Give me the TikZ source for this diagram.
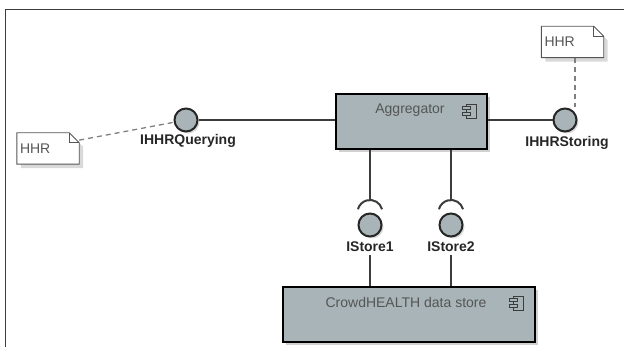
\documentclass[tikz,border=0pt]{standalone}
\usepackage{fontspec}
\setmainfont{Liberation Sans}
\usetikzlibrary{positioning,shadows,backgrounds}

\definecolor{compgray}{RGB}{168,180,183}
\definecolor{txtgray}{RGB}{85,85,85}
\definecolor{linegray}{RGB}{60,60,60}

\tikzset{
    compicon/.pic = {
        \draw[linegray, fill=compgray, line width=0.9pt] (-5,-7) rectangle (5,7);
        \draw[linegray, fill=compgray, line width=0.9pt] (-9,1.2) rectangle (-1,4.6);
        \draw[linegray, fill=compgray, line width=0.9pt] (-9,-4.6) rectangle (-1,-1.2);
    }
}

\begin{document}
\begin{tikzpicture}[
        x=1pt, y=1pt,
        font=\fontsize{14}{16}\selectfont,
        comp/.style = {draw=black, line width=2pt, fill=compgray, rectangle, inner sep=0pt,
                       drop shadow={shadow xshift=3pt, shadow yshift=-3pt, fill=black!18, opacity=1}},
        iface/.style = {draw=black!85, line width=2pt, circle, fill=compgray, minimum size=23pt, inner sep=0pt,
                       drop shadow={shadow xshift=2pt, shadow yshift=-2pt, fill=black!15, opacity=1}},
        ilabel/.style = {font=\fontsize{14}{16}\selectfont\bfseries, text=black!85},
        ctitle/.style = {text=txtgray},
        notebox/.style = {text width=56pt, align=left, inner xsep=3pt, inner ysep=0pt, minimum height=31pt, text=txtgray},
        wire/.style = {draw=linegray, line width=1.1pt},
        dep/.style = {draw=gray, line width=1.3pt, dash pattern=on 5pt off 4pt}]

    \useasboundingbox (0,0) rectangle (624,347);
    \draw[linegray, line width=1pt] (5,0) -- (5,337) -- (624,337);

    % components
    \node[comp, minimum width=151pt, minimum height=55pt] (agg) at (411.5,225.5) {};
    \node[ctitle] (aggtitle) at (410,237) {Aggregator};
    \pic at (471,236) {compicon};

    \node[comp, minimum width=252pt, minimum height=55pt] (store) at (409,32.5) {};
    \node[ctitle] (storetitle) at (406,44) {CrowdHEALTH data store};
    \pic at (518,44) {compicon};

    % provided interfaces
    \node[iface] (qry) at (186,227) {};
    \node[ilabel] (qrylbl) at (188,206) {IHHRQuerying};
    \node[iface] (sto) at (565,227) {};
    \node[ilabel] (stolbl) at (567,204) {IHHRStoring};

    \draw[wire] (qry) -- (qry -| agg.west);
    \draw[wire] (agg.east |- sto) -- (sto);

    % store interfaces
    \foreach \s/\x in {st1/370, st2/451}
        {
            \node[iface] (\s) at (\x,122) {};
            \node[ilabel] (\s lbl) at (\x,100) {IStore\ifnum\x=370 1\else 2\fi};
            \coordinate (\s top) at ([yshift=25pt]\s.center);
            \draw[linegray, line width=2pt] ([yshift=12.5pt]\s.center) +(15:12.5) arc (15:165:12.5);
            \draw[wire] (agg.south -| \s top) -- (\s top);
            \draw[wire] (\s lbl.south) -- (\s lbl.south |- store.north);
        }

    % notes
    \node[notebox] (hhrL) at (48,198.5) {HHR};
    \node[notebox] (hhrR) at (572.5,305) {HHR};
    \begin{scope}[on background layer]
    \foreach \nt in {hhrL, hhrR}
        {
            \fill[black!15] ([shift={(4pt,-4pt)}]\nt.south west) -- ([shift={(4pt,-4pt)}]\nt.north west)
                -- ([shift={(-6pt,-4pt)}]\nt.north east) -- ([shift={(4pt,-14pt)}]\nt.north east)
                -- ([shift={(4pt,-4pt)}]\nt.south east) -- cycle;
            \draw[txtgray, fill=white, line width=0.9pt] (\nt.south west) -- (\nt.north west)
                -- ([xshift=-10pt]\nt.north east) -- ([yshift=-10pt]\nt.north east)
                -- (\nt.south east) -- cycle;
            \draw[txtgray, line width=0.9pt] ([xshift=-10pt]\nt.north east)
                -- ([xshift=-10pt,yshift=-10pt]\nt.north east) -- ([yshift=-10pt]\nt.north east);
        }
    \end{scope}

    \path (hhrL.15) edge[dep] (qry);
    \draw[dep] ([xshift=2.5pt]hhrR.south) -- ([xshift=2.5pt]hhrR.south |- sto.north);

\end{tikzpicture}
\end{document}
